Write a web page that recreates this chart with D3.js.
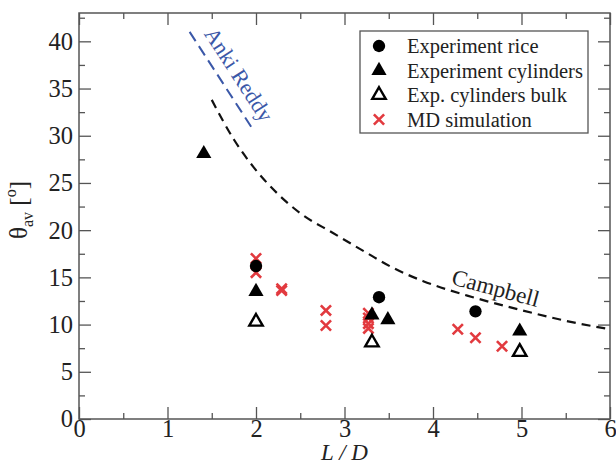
<!DOCTYPE html>
<html>
<head>
<meta charset="utf-8">
<script src="https://cdn.jsdelivr.net/npm/d3@7"></script>
<style>
  body { margin: 0; background: #fff; }
  svg { display: block; }
  text { font-family: "Liberation Serif", "Times New Roman", serif; }
</style>
</head>
<body>
<svg id="chart" width="616" height="466"></svg>
<script>
// ============================================================
// DATA
// ============================================================
const riceExp = [ [2.0, 16.2], [3.39, 12.9], [4.48, 11.4] ];
const cylExp = [ [1.41, 28.1], [2.0, 13.5], [3.31, 11.0], [3.49, 10.5], [4.98, 9.3] ];
const cylBulk = [ [2.0, 10.3], [3.31, 8.1], [4.98, 7.1] ];
const mdSim = [
  [2.0, 17.0], [2.0, 15.5], [2.29, 13.8], [2.29, 13.6],
  [2.79, 11.5], [2.79, 9.9],
  [3.27, 11.2], [3.27, 10.7], [3.27, 10.1], [3.27, 9.6],
  [4.28, 9.5], [4.48, 8.6], [4.78, 7.7]
];
const campbellCurve = [
  [1.5, 33.8], [1.75, 29.6], [1.97, 26.7], [2.24, 23.9], [2.5, 21.8],
  [2.87, 19.7], [3.25, 17.6], [3.55, 16.0], [3.89, 14.6], [4.45, 12.9],
  [5.01, 11.5], [5.5, 10.4], [6.0, 9.5]
];
const ankiReddyLine = [ [1.25, 41.0], [1.97, 30.6] ];
const xTicks = [0, 1, 2, 3, 4, 5, 6];
const yTicks = [0, 5, 10, 15, 20, 25, 30, 35, 40];
const legendItems = [
  { label: 'Experiment rice', kind: 'circle' },
  { label: 'Experiment cylinders', kind: 'tri' },
  { label: 'Exp. cylinders bulk', kind: 'triOpen' },
  { label: 'MD simulation', kind: 'cross' }
];

// ============================================================
// LAYOUT
// ============================================================
const W = 616, H = 466;
const M = { left: 79, right: 6, top: 13, bottom: 47 };
const svg = d3.select('#chart');
const g = svg.append('g').attr('transform', `translate(${M.left},${M.top})`);
const iw = W - M.left - M.right, ih = H - M.top - M.bottom;

const x = d3.scaleLinear().domain([0, 6]).range([0, iw]);
const y = d3.scaleLinear().domain([0, 43]).range([ih, 0]);

const RED = '#e23a3f', BLUE = '#3b58a8', FRAME = '#555';

// ============================================================
// AXES (ticks point inward, mirrored on top/right)
// ============================================================
function styleAxis(sel) {
  sel.select('.domain').remove();
  sel.selectAll('line').attr('stroke', FRAME).attr('stroke-width', 1.3);
  sel.selectAll('text').attr('font-size', 24.5).attr('fill', '#222');
}
const xMinor = d3.range(0.5, 6, 1);
const yMinor = d3.range(2.5, 43, 5);

g.append('g').attr('transform', `translate(0,${ih})`)
  .call(d3.axisBottom(x).tickValues(xTicks).tickFormat(d3.format('d')).tickSize(-12).tickPadding(1))
  .call(styleAxis);
g.append('g').attr('transform', `translate(0,${ih})`)
  .call(d3.axisBottom(x).tickValues(xMinor).tickFormat('').tickSize(-6))
  .call(styleAxis);
g.append('g')
  .call(d3.axisTop(x).tickValues(xTicks).tickFormat('').tickSize(-12))
  .call(styleAxis);
g.append('g')
  .call(d3.axisTop(x).tickValues(xMinor).tickFormat('').tickSize(-6))
  .call(styleAxis);

g.append('g')
  .call(d3.axisLeft(y).tickValues(yTicks).tickFormat(d3.format('d')).tickSize(-12).tickPadding(6))
  .call(styleAxis);
g.append('g')
  .call(d3.axisLeft(y).tickValues(yMinor).tickFormat('').tickSize(-6))
  .call(styleAxis);
g.append('g').attr('transform', `translate(${iw},0)`)
  .call(d3.axisRight(y).tickValues(yTicks).tickFormat('').tickSize(-12))
  .call(styleAxis);
g.append('g').attr('transform', `translate(${iw},0)`)
  .call(d3.axisRight(y).tickValues(yMinor).tickFormat('').tickSize(-6))
  .call(styleAxis);

g.append('rect')
  .attr('width', iw).attr('height', ih)
  .attr('fill', 'none').attr('stroke', FRAME).attr('stroke-width', 1.5);

// axis titles
svg.append('text')
  .attr('x', M.left + iw / 2).attr('y', 460)
  .attr('text-anchor', 'middle').attr('font-size', 23)
  .attr('font-style', 'italic').attr('fill', '#222')
  .text('L / D');

const yt = svg.append('text')
  .attr('transform', `translate(27,${M.top + ih / 2 - 6}) rotate(-90)`)
  .attr('text-anchor', 'middle').attr('font-size', 25).attr('fill', '#222');
yt.append('tspan').text('θ');
yt.append('tspan').attr('font-size', 16).attr('dy', 6).text('av');
yt.append('tspan').attr('dy', -6).text(' [');
yt.append('tspan').attr('font-size', 16).attr('dy', -11).text('o');
yt.append('tspan').attr('dy', 11).text(']');

// ============================================================
// CURVES
// ============================================================
const line = d3.line().x(d => x(d[0])).y(d => y(d[1])).curve(d3.curveMonotoneX);

g.append('path').datum(campbellCurve)
  .attr('d', line).attr('fill', 'none')
  .attr('stroke', '#111').attr('stroke-width', 2.2)
  .attr('stroke-dasharray', '9,6');

g.append('path').datum(ankiReddyLine)
  .attr('d', d3.line().x(d => x(d[0])).y(d => y(d[1])))
  .attr('fill', 'none').attr('stroke', BLUE).attr('stroke-width', 2)
  .attr('stroke-dasharray', '11,6');

g.append('text')
  .attr('transform', `translate(${x(1.81)},${y(36.5)}) rotate(57)`)
  .attr('text-anchor', 'middle').attr('dy', '0.35em')
  .attr('font-size', 22).attr('fill', BLUE)
  .text('Anki Reddy');

g.append('text')
  .attr('transform', `translate(${x(4.71)},${y(13.9)}) rotate(15)`)
  .attr('text-anchor', 'middle').attr('dy', '0.35em')
  .attr('font-size', 23).attr('fill', '#222')
  .text('Campbell');

// ============================================================
// MARKERS
// ============================================================
const symCircle = d3.symbol(d3.symbolCircle, 120)();
const symTri = d3.symbol(d3.symbolTriangle, 100)();
const symTriOpen = d3.symbol(d3.symbolTriangle, 78)();
const symCross = d3.symbol(d3.symbolTimes, 70)();

function drawMarker(sel, kind) {
  if (kind === 'circle') sel.attr('d', symCircle).attr('fill', '#000');
  else if (kind === 'tri') sel.attr('d', symTri).attr('fill', '#000');
  else if (kind === 'triOpen') sel.attr('d', symTriOpen).attr('fill', 'none')
    .attr('stroke', '#000').attr('stroke-width', 2.4);
  else sel.attr('d', symCross).attr('fill', 'none')
    .attr('stroke', RED).attr('stroke-width', 2.6);
}

function plotSeries(data, kind) {
  g.append('g').selectAll('path').data(data).join('path')
    .attr('transform', d => `translate(${x(d[0])},${y(d[1])})`)
    .call(drawMarker, kind);
}
plotSeries(mdSim, 'cross');
plotSeries(cylBulk, 'triOpen');
plotSeries(cylExp, 'tri');
plotSeries(riceExp, 'circle');

// ============================================================
// LEGEND
// ============================================================
const lg = svg.append('g').attr('transform', 'translate(360,31)');
lg.append('rect')
  .attr('width', 228).attr('height', 102)
  .attr('fill', '#fff').attr('stroke', FRAME).attr('stroke-width', 1.3);
const rows = lg.selectAll('g.row').data(legendItems).join('g')
  .attr('class', 'row')
  .attr('transform', (d, i) => `translate(0,${15 + i * 24.5})`);
rows.append('path')
  .attr('transform', 'translate(19,0)')
  .each(function(d) { d3.select(this).call(drawMarker, d.kind); });
rows.append('text')
  .attr('x', 47).attr('dy', '0.35em')
  .attr('font-size', 20.5).attr('fill', '#222')
  .text(d => d.label);
</script>
</body>
</html>
